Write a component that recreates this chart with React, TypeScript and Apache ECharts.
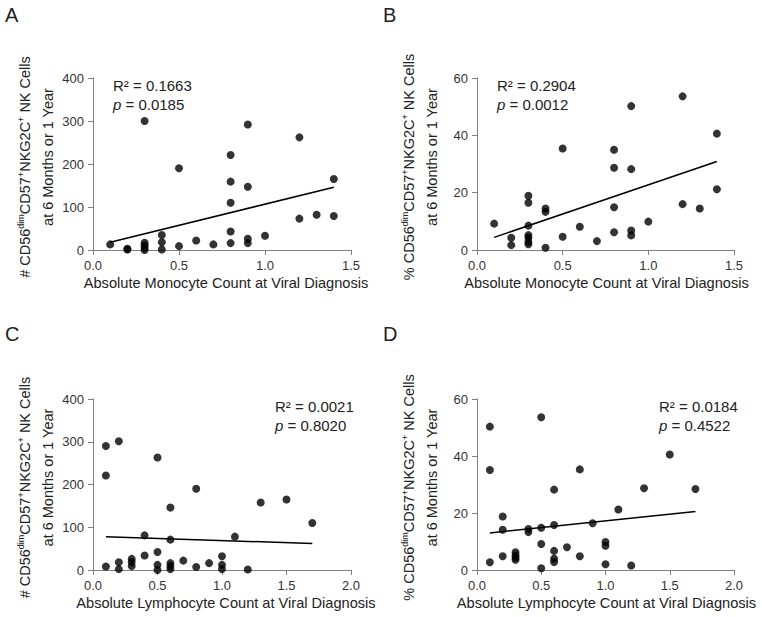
import React, { useEffect, useRef } from "react";
import * as echarts from "echarts";

// Panel A: monocytes vs # cells
const aX = [0.1, 0.2, 0.2, 0.3, 0.3, 0.3, 0.3, 0.3, 0.4, 0.4, 0.4, 0.5, 0.5, 0.6, 0.7, 0.8, 0.8, 0.8, 0.8, 0.8, 0.9, 0.9, 0.9, 0.9, 1.0, 1.2, 1.2, 1.3, 1.4, 1.4];
const aY = [13, 3, 1, 300, 17, 11, 5, 0, 35, 18, 1, 190, 9, 22, 13, 221, 159, 110, 43, 16, 292, 147, 26, 16, 33, 262, 73, 82, 165, 79];
// Panel B: monocytes vs % cells
const bX = [0.1, 0.2, 0.2, 0.3, 0.3, 0.3, 0.3, 0.3, 0.3, 0.3, 0.4, 0.4, 0.4, 0.5, 0.5, 0.6, 0.7, 0.8, 0.8, 0.8, 0.8, 0.9, 0.9, 0.9, 0.9, 1.0, 1.2, 1.2, 1.3, 1.4, 1.4];
const bY = [9.2, 4.3, 1.7, 18.9, 16.5, 8.5, 5.2, 4.3, 2.9, 2.0, 14.5, 13.3, 0.8, 35.4, 4.6, 8.1, 3.1, 35.0, 28.7, 14.9, 6.2, 50.2, 28.2, 6.8, 5.1, 9.9, 53.6, 16.0, 14.5, 40.6, 21.2];
// Panel C: lymphocytes vs # cells
const cX = [0.1, 0.1, 0.1, 0.2, 0.2, 0.2, 0.3, 0.3, 0.3, 0.4, 0.4, 0.5, 0.5, 0.5, 0.5, 0.6, 0.6, 0.6, 0.6, 0.6, 0.7, 0.8, 0.8, 0.9, 1.0, 1.0, 1.0, 1.1, 1.2, 1.3, 1.5, 1.7];
const cY = [290, 221, 8, 301, 18, 2, 26, 18, 9, 81, 34, 263, 42, 12, 0, 146, 71, 16, 9, 2, 22, 190, 7, 16, 32, 12, 2, 78, 1, 158, 165, 110];
// Panel D: lymphocytes vs % cells
const dX = [0.1, 0.1, 0.1, 0.2, 0.2, 0.2, 0.3, 0.3, 0.3, 0.3, 0.4, 0.4, 0.5, 0.5, 0.5, 0.5, 0.6, 0.6, 0.6, 0.6, 0.6, 0.7, 0.8, 0.8, 0.9, 1.0, 1.0, 1.0, 1.1, 1.2, 1.3, 1.5, 1.7];
const dY = [50.3, 35.1, 2.7, 18.8, 14.1, 4.8, 6.2, 5.2, 4.4, 3.6, 14.4, 13.3, 53.6, 14.8, 9.1, 0.6, 28.2, 15.8, 6.7, 4.0, 2.8, 8.0, 35.3, 4.8, 16.4, 9.8, 8.5, 2.0, 21.2, 1.6, 28.7, 40.5, 28.4];

// regression line end points
const fitA = [[0.1, 18], [1.4, 146]];
const fitB = [[0.1, 4.4], [1.4, 30.9]];
const fitC = [[0.1, 78], [1.7, 62]];
const fitD = [[0.1, 13.0], [1.7, 20.5]];

const statsA = ["0.1663", "0.0185"];
const statsB = ["0.2904", "0.0012"];
const statsC = ["0.0021", "0.8020"];
const statsD = ["0.0184", "0.4522"];

const panelLetters = ["A", "B", "C", "D"];
const xTitles = [
  "Absolute Monocyte Count at Viral Diagnosis",
  "Absolute Monocyte Count at Viral Diagnosis",
  "Absolute Lymphocyte Count at Viral Diagnosis",
  "Absolute Lymphocyte Count at Viral Diagnosis",
];
const yTitleTop = [
  "# CD56{sup|dim}CD57{sup|+}NKG2C{sup|+} NK Cells",
  "% CD56{sup|dim}CD57{sup|+}NKG2C{sup|+} NK Cells",
  "# CD56{sup|dim}CD57{sup|+}NKG2C{sup|+} NK Cells",
  "% CD56{sup|dim}CD57{sup|+}NKG2C{sup|+} NK Cells",
];
const yTitleBottom = "at 6 Months or 1 Year";

const FONT = "'Liberation Sans', Arial, sans-serif";

const zip = (xs: number[], ys: number[]) => xs.map((x, i) => [x, ys[i]]);

const App = () => {
  const chartRef = useRef<HTMLDivElement>(null);

  useEffect(() => {
    if (!chartRef.current) return;
    document.body.style.margin = "0";
    const chart = echarts.init(chartRef.current, undefined, { renderer: "svg" });

    const grids = [
      { left: 93, top: 78, width: 258, height: 172 },
      { left: 477, top: 78, width: 257, height: 172 },
      { left: 93, top: 399, width: 258, height: 171 },
      { left: 477, top: 399, width: 257, height: 171 },
    ];
    const xMax = [1.5, 1.5, 2, 2];
    const yMax = [400, 60, 400, 60];
    const yStep = [100, 20, 100, 20];
    const points = [zip(aX, aY), zip(bX, bY), zip(cX, cY), zip(dX, dY)];
    const fits = [fitA, fitB, fitC, fitD];
    const stats = [statsA, statsB, statsC, statsD];

    const axisLine = { show: true, lineStyle: { color: "#808080", width: 1 } };
    const axisTick = { show: true, length: 5, lineStyle: { color: "#808080" } };

    const graphics: any[] = [];
    grids.forEach((g, i) => {
      const cx = g.left + g.width / 2;
      // panel letter
      graphics.push({
        type: "text",
        x: i % 2 === 0 ? 5 : 383,
        y: i < 2 ? 5 : 324,
        style: { text: panelLetters[i], font: `20px ${FONT}`, fill: "#222" },
      });
      // x title
      graphics.push({
        type: "text",
        x: i % 2 === 0 ? cx + 4 : cx + 1,
        y: g.top + g.height + 33,
        style: {
          text: xTitles[i],
          font: `14.6px ${FONT}`,
          fill: "#222",
          align: "center",
          verticalAlign: "middle",
        },
      });
      // y title, two rotated lines
      const yc = g.top + g.height / 2;
      graphics.push({
        type: "text",
        x: g.left - 68,
        y: yc + 3,
        rotation: Math.PI / 2,
        style: {
          text: yTitleTop[i],
          font: `14.5px ${FONT}`,
          fill: "#222",
          align: "center",
          verticalAlign: "middle",
          rich: {
            sup: { fontSize: 9, fontFamily: FONT, fill: "#222", verticalAlign: "top", lineHeight: 18 },
          },
          lineHeight: 18,
        },
      });
      graphics.push({
        type: "text",
        x: g.left - 45,
        y: yc - 7,
        rotation: Math.PI / 2,
        style: {
          text: yTitleBottom,
          font: `14.5px ${FONT}`,
          fill: "#222",
          align: "center",
          verticalAlign: "middle",
        },
      });
      // stats
      const right = i >= 2;
      graphics.push({
        type: "text",
        x: right ? g.left + 182 : g.left + 20,
        y: g.top - 2,
        style: {
          text: `R² = ${stats[i][0]}\n{i|p} = ${stats[i][1]}`,
          font: `15px ${FONT}`,
          fill: "#222",
          lineHeight: 19,
          rich: { i: { fontStyle: "italic", fontSize: 15, fontFamily: FONT, fill: "#222" } },
        },
      });
    });

    const option: echarts.EChartsOption = {
      animation: false,
      backgroundColor: "#fff",
      grid: grids.map((g) => ({ ...g })),
      xAxis: grids.map((_, i) => ({
        type: "value",
        gridIndex: i,
        min: 0,
        max: xMax[i],
        interval: 0.5,
        axisLine,
        axisTick,
        splitLine: { show: false },
        axisLabel: {
          color: "#333",
          fontSize: 13,
          fontFamily: FONT,
          margin: 9,
          formatter: (v: number) => v.toFixed(1),
        },
      })),
      yAxis: grids.map((_, i) => ({
        type: "value",
        gridIndex: i,
        min: 0,
        max: yMax[i],
        interval: yStep[i],
        axisLine,
        axisTick,
        splitLine: { show: false },
        axisLabel: { color: "#333", fontSize: 13, fontFamily: FONT, margin: 9 },
      })),
      series: [
        ...points.map((pts, i) => ({
          type: "scatter" as const,
          xAxisIndex: i,
          yAxisIndex: i,
          data: pts,
          symbolSize: 8,
          itemStyle: { color: "#000" },
          z: 3,
        })),
        ...fits.map((f, i) => ({
          type: "line" as const,
          xAxisIndex: i,
          yAxisIndex: i,
          data: f,
          symbol: "none",
          lineStyle: { color: "#000", width: 1.5 },
          z: 2,
        })),
      ],
      graphic: graphics,
    };

    chart.setOption(option);
    return () => chart.dispose();
  }, []);

  return <div ref={chartRef} style={{ width: "762px", height: "617px" }} />;
};

export default App;
